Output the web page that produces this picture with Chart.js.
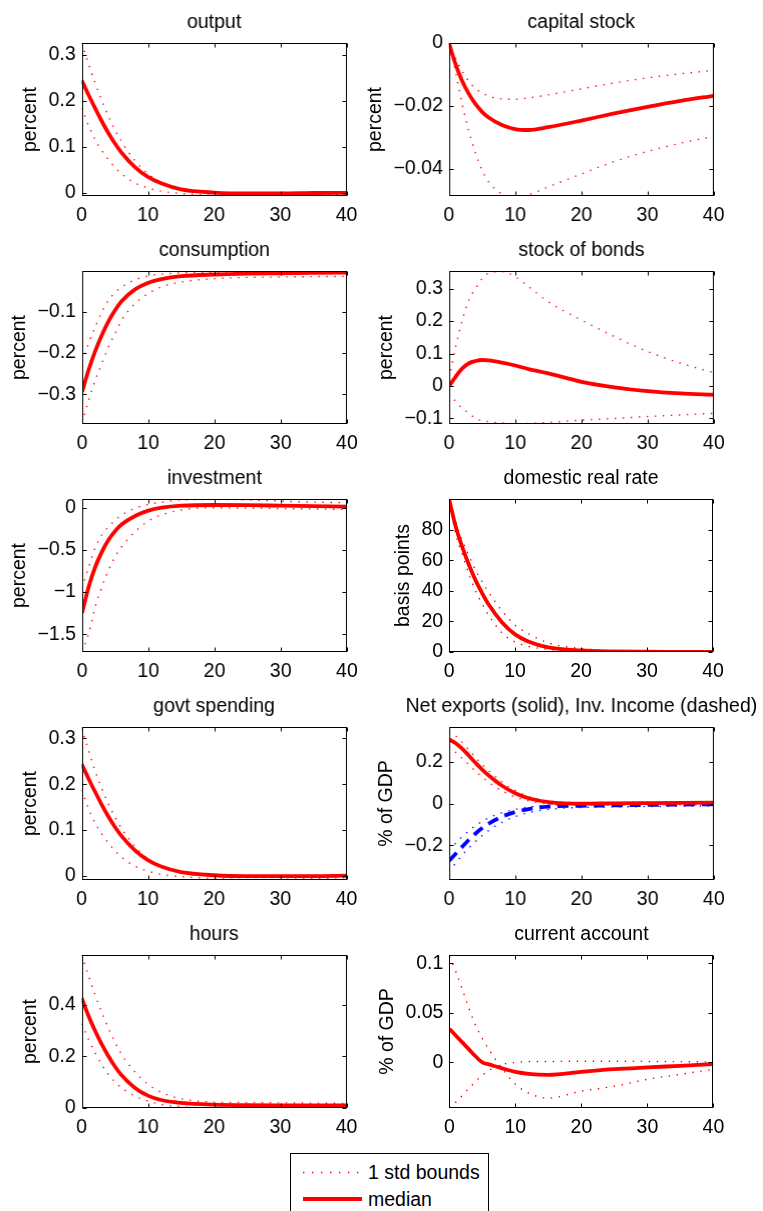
<!DOCTYPE html>
<html>
<head>
<meta charset="utf-8">
<script src="https://cdn.jsdelivr.net/npm/chart.js@4.4.1/dist/chart.umd.min.js"></script>
<style>
  body { margin: 0; background: #fff; width: 763px; height: 1211px; overflow: hidden; position: relative;
         font-family: "Liberation Sans", Arial, sans-serif; }
  canvas.panel { position: absolute; }
  #legend { position: absolute; left: 290px; top: 1153px; width: 197px; height: 80px;
            border: 1px solid #000; background: #fff; }
  #legend canvas { position: absolute; left: 0; top: 0; }
  #legend span { position: absolute; left: 77px; font-size: 19.5px; line-height: 22px; color: #000; white-space: nowrap; }
</style>
</head>
<body>
<div id="legend">
  <canvas id="legendKey" width="76" height="60"></canvas>
  <span style="top:7px">1 std bounds</span>
  <span style="top:34px">median</span>
</div>
<script>
// horizon in quarters
var T = [0, 1, 2, 3, 4, 5, 6, 8, 10, 12, 15, 20, 25, 30, 35, 40];
var xTicks = [0, 10, 20, 30, 40];

// output
var outputMed = [0.245, 0.214, 0.185, 0.157, 0.131, 0.108, 0.088, 0.057, 0.035, 0.021, 0.008, 0.001, -0.001, -0.001, 0.000, 0.0005];
var outputHi  = [0.326, 0.282, 0.240, 0.203, 0.168, 0.138, 0.112, 0.071, 0.042, 0.024, 0.009, 0.002, 0.001, 0.001, 0.001, 0.002];
var outputLo  = [0.185, 0.148, 0.117, 0.093, 0.073, 0.056, 0.042, 0.022, 0.011, 0.004, -0.001, -0.005, -0.006, -0.005, -0.004, -0.003];
var outputTicks = [0, 0.1, 0.2, 0.3];

// capital stock
var capitalMed = [0, -0.0068, -0.0121, -0.0162, -0.0194, -0.0219, -0.0237, -0.0261, -0.0274, -0.0277, -0.0268, -0.0247, -0.0224, -0.0203, -0.0184, -0.0168];
var capitalHi  = [0, -0.0048, -0.0090, -0.0122, -0.0144, -0.0159, -0.0169, -0.0178, -0.0179, -0.0175, -0.0165, -0.0146, -0.0127, -0.0111, -0.0098, -0.0087];
var capitalLo  = [0, -0.0092, -0.0195, -0.0280, -0.0350, -0.0405, -0.0442, -0.0480, -0.0490, -0.0483, -0.0458, -0.0417, -0.0377, -0.0345, -0.0319, -0.0297];
var capitalTicks = [-0.04, -0.02, 0];

// consumption
var consMed = [-0.294, -0.240, -0.195, -0.156, -0.123, -0.096, -0.074, -0.046, -0.030, -0.021, -0.014, -0.010, -0.008, -0.007, -0.006, -0.0055];
var consHi  = [-0.221, -0.176, -0.136, -0.100, -0.072, -0.054, -0.040, -0.023, -0.0135, -0.009, -0.006, -0.0045, -0.0035, -0.003, -0.003, -0.003];
var consLo  = [-0.369, -0.314, -0.265, -0.225, -0.185, -0.152, -0.120, -0.080, -0.056, -0.040, -0.028, -0.020, -0.017, -0.016, -0.015, -0.0145];
var consTicks = [-0.3, -0.2, -0.1];

// stock of bonds
var bondsMed = [0, 0.029, 0.054, 0.070, 0.077, 0.080, 0.079, 0.072, 0.063, 0.052, 0.039, 0.013, -0.004, -0.016, -0.023, -0.027];
var bondsHi  = [0.024, 0.121, 0.203, 0.265, 0.300, 0.331, 0.347, 0.352, 0.336, 0.306, 0.259, 0.203, 0.152, 0.106, 0.070, 0.041];
var bondsLo  = [-0.023, -0.048, -0.069, -0.084, -0.100, -0.107, -0.110, -0.114, -0.116, -0.115, -0.112, -0.105, -0.100, -0.094, -0.089, -0.084];
var bondsTicks = [-0.1, 0, 0.1, 0.2, 0.3];

// investment
var invMed = [-1.244, -0.936, -0.700, -0.520, -0.380, -0.276, -0.197, -0.098, -0.035, 0.000, 0.024, 0.032, 0.030, 0.024, 0.018, 0.012];
var invHi  = [-0.955, -0.700, -0.470, -0.320, -0.225, -0.150, -0.086, -0.007, 0.040, 0.064, 0.092, 0.098, 0.092, 0.078, 0.066, 0.059];
var invLo  = [-1.706, -1.490, -1.170, -0.936, -0.740, -0.580, -0.460, -0.284, -0.158, -0.086, -0.027, 0.000, -0.005, -0.010, -0.015, -0.020];
var invTicks = [-1.5, -1, -0.5, 0];

// domestic real rate, basis points
var rateMed = [100, 82, 68.5, 57, 47, 38.5, 31, 19.5, 11.5, 6.8, 3, 1, 0.4, 0.2, 0.1, 0];
var rateHi  = [100, 85, 73, 63, 53.5, 46, 39, 27, 17.5, 12, 6, 2.2, 0.9, 0.4, 0.2, 0.1];
var rateLo  = [100, 77, 64, 51, 40, 31.5, 24, 12.5, 6.5, 3.7, 1.7, 0.4, 0.1, 0, 0, 0];
var rateTicks = [0, 20, 40, 60, 80];

// govt spending
var govMed = [0.244, 0.213, 0.184, 0.156, 0.130, 0.107, 0.087, 0.056, 0.034, 0.020, 0.008, 0.001, -0.001, -0.001, -0.001, 0];
var govHi  = [0.322, 0.275, 0.230, 0.192, 0.158, 0.129, 0.104, 0.065, 0.037, 0.020, 0.007, 0.001, 0, 0, 0, 0];
var govLo  = [0.187, 0.148, 0.116, 0.092, 0.072, 0.055, 0.041, 0.021, 0.010, 0.003, -0.002, -0.006, -0.008, -0.008, -0.006, -0.005];
var govTicks = [0, 0.1, 0.2, 0.3];

// net exports (solid) and investment income (dashed), % of GDP
var nxMed = [0.309, 0.290, 0.263, 0.230, 0.196, 0.164, 0.135, 0.086, 0.050, 0.026, 0.008, 0.000, 0.002, 0.003, 0.004, 0.005];
var nxHi  = [0.345, 0.325, 0.293, 0.258, 0.222, 0.188, 0.157, 0.104, 0.064, 0.035, 0.013, 0.005, 0.006, 0.007, 0.008, 0.008];
var nxLo  = [0.274, 0.246, 0.216, 0.186, 0.156, 0.128, 0.102, 0.062, 0.032, 0.014, -0.002, -0.008, -0.007, -0.006, -0.005, -0.005];
var incMed = [-0.274, -0.240, -0.206, -0.173, -0.143, -0.117, -0.095, -0.062, -0.040, -0.026, -0.014, -0.010, -0.008, -0.006, -0.004, -0.003];
var incHi  = [-0.222, -0.190, -0.158, -0.130, -0.105, -0.085, -0.068, -0.043, -0.027, -0.016, -0.007, -0.003, -0.002, -0.002, -0.002, -0.002];
var incLo  = [-0.326, -0.285, -0.246, -0.212, -0.181, -0.153, -0.128, -0.089, -0.062, -0.043, -0.027, -0.018, -0.015, -0.014, -0.012, -0.011];
var nxTicks = [-0.2, 0, 0.2];

// hours
var hoursMed = [0.426, 0.358, 0.300, 0.248, 0.202, 0.161, 0.127, 0.078, 0.047, 0.030, 0.019, 0.012, 0.010, 0.009, 0.009, 0.009];
var hoursHi  = [0.593, 0.515, 0.440, 0.372, 0.311, 0.256, 0.208, 0.140, 0.092, 0.060, 0.035, 0.022, 0.020, 0.019, 0.018, 0.017];
var hoursLo  = [0.326, 0.267, 0.215, 0.169, 0.131, 0.101, 0.078, 0.046, 0.026, 0.013, 0.004, 0.000, 0.000, 0.001, 0.001, 0.001];
var hoursTicks = [0, 0.2, 0.4];

// current account
var caMed = [0.034, 0.027, 0.020, 0.013, 0.006, 0.000, -0.002, -0.006, -0.0095, -0.0115, -0.0125, -0.0095, -0.0068, -0.005, -0.0034, -0.0017];
var caHi  = [0.107, 0.0915, 0.073, 0.054, 0.037, 0.024, 0.013, -0.006, -0.022, -0.031, -0.036, -0.029, -0.024, -0.017, -0.012, -0.007];
var caLo  = [-0.046, -0.040, -0.033, -0.026, -0.019, -0.013, -0.008, -0.002, 0.000, 0.001, 0.001, 0.0012, 0.0012, 0.001, 0.0008, 0.0005];
var caTicks = [0, 0.05, 0.1];

// axes boxes of the 5x2 grid
var colX = [82, 449];
var rowY = [43, 271, 499, 727, 955];
var PW = 264, PH = 153;

var RED = 'rgb(255,0,0)', BLUE = 'rgb(0,0,255)';
var FONT = { family: '"Liberation Sans", Arial, sans-serif', size: 19.5 };

function pts(arr) {
  return T.map(function (t, i) { return { x: t, y: arr[i] }; });
}
function solid(arr, color) {
  return { data: pts(arr), borderColor: color, borderWidth: 3.8, pointRadius: 0,
           cubicInterpolationMode: 'monotone', clip: 0, borderCapStyle: 'butt' };
}
function dashed(arr, color) {
  var d = solid(arr, color);
  d.borderDash = [11, 7];
  return d;
}
function dotted(arr, color) {
  return { data: pts(arr), borderColor: color, borderWidth: 1.4, borderDash: [1.4, 6.6], pointRadius: 0,
           cubicInterpolationMode: 'monotone', clip: 0, borderCapStyle: 'butt' };
}

function fmt(v) {
  return String(+Number(v).toFixed(4)).replace('-', '\u2212');
}

var panels = [
  { title: 'output', ylab: 'percent', col: 0, row: 0, ymin: -0.0065, ymax: 0.326, ticks: outputTicks,
    sets: [solid(outputMed, RED), dotted(outputHi, RED), dotted(outputLo, RED)] },
  { title: 'capital stock', ylab: 'percent', col: 1, row: 0, ymin: -0.0487, ymax: 0, ticks: capitalTicks,
    sets: [solid(capitalMed, RED), dotted(capitalHi, RED), dotted(capitalLo, RED)] },
  { title: 'consumption', ylab: 'percent', col: 0, row: 1, ymin: -0.372, ymax: -0.0015, ticks: consTicks,
    sets: [solid(consMed, RED), dotted(consHi, RED), dotted(consLo, RED)] },
  { title: 'stock of bonds', ylab: 'percent', col: 1, row: 1, ymin: -0.117, ymax: 0.354, ticks: bondsTicks,
    sets: [solid(bondsMed, RED), dotted(bondsHi, RED), dotted(bondsLo, RED)] },
  { title: 'investment', ylab: 'percent', col: 0, row: 2, ymin: -1.71, ymax: 0.103, ticks: invTicks,
    sets: [solid(invMed, RED), dotted(invHi, RED), dotted(invLo, RED)] },
  { title: 'domestic real rate', ylab: 'basis points', col: 1, row: 2, ymin: 0, ymax: 100, ticks: rateTicks,
    sets: [solid(rateMed, RED), dotted(rateHi, RED), dotted(rateLo, RED)] },
  { title: 'govt spending', ylab: 'percent', col: 0, row: 3, ymin: -0.0094, ymax: 0.325, ticks: govTicks,
    sets: [solid(govMed, RED), dotted(govHi, RED), dotted(govLo, RED)] },
  { title: 'Net exports (solid), Inv. Income (dashed)', ylab: '% of GDP', col: 1, row: 3,
    ymin: -0.366, ymax: 0.368, ticks: nxTicks,
    sets: [solid(nxMed, RED), dashed(incMed, BLUE), dotted(nxHi, RED), dotted(nxLo, RED),
           dotted(incHi, BLUE), dotted(incLo, BLUE)] },
  { title: 'hours', ylab: 'percent', col: 0, row: 4, ymin: -0.001, ymax: 0.593, ticks: hoursTicks,
    sets: [solid(hoursMed, RED), dotted(hoursHi, RED), dotted(hoursLo, RED)] },
  { title: 'current account', ylab: '% of GDP', col: 1, row: 4, ymin: -0.046, ymax: 0.1085, ticks: caTicks,
    sets: [solid(caMed, RED), dotted(caHi, RED), dotted(caLo, RED)] }
];

// boxed axes with inward tick marks on all four sides, title above the box
var boxTicks = {
  id: 'boxTicks',
  afterDraw: function (chart, args, opts) {
    var ctx = chart.ctx, a = chart.chartArea, x = chart.scales.x, y = chart.scales.y;
    var L = Math.round(a.left) + 0.5, R = Math.round(a.right) - 0.5;
    var B = Math.round(a.bottom) - 0.5, Tp = Math.round(a.top) + 0.5;
    ctx.save();
    ctx.strokeStyle = '#000';
    ctx.lineWidth = 1;
    ctx.beginPath();
    x.ticks.forEach(function (t) {
      var px = Math.round(x.getPixelForValue(t.value)) + 0.5;
      ctx.moveTo(px, B); ctx.lineTo(px, B - 4);
      ctx.moveTo(px, Tp); ctx.lineTo(px, Tp + 4);
    });
    y.ticks.forEach(function (t) {
      var py = Math.round(y.getPixelForValue(t.value)) + 0.5;
      ctx.moveTo(L, py); ctx.lineTo(L + 4, py);
      ctx.moveTo(R, py); ctx.lineTo(R - 4, py);
    });
    ctx.stroke();
    ctx.strokeRect(L, Tp, R - L, B - Tp);
    ctx.fillStyle = '#000';
    ctx.font = FONT.size + 'px ' + FONT.family;
    ctx.textAlign = 'center';
    ctx.textBaseline = 'alphabetic';
    ctx.fillText(opts.text, (a.left + a.right) / 2, a.top - 15);
    ctx.restore();
  }
};

function makeChart(p) {
  var cv = document.createElement('canvas');
  cv.className = 'panel';
  cv.width = 400;
  cv.height = 230;
  document.body.appendChild(cv);
  var chart = new Chart(cv, {
    type: 'line',
    data: { datasets: p.sets },
    options: {
      responsive: false,
      maintainAspectRatio: false,
      animation: false,
      devicePixelRatio: 1,
      events: [],
      layout: { padding: { top: 36, right: p.col ? 50 : 24, bottom: 2, left: 0 } },
      plugins: { legend: { display: false }, tooltip: { enabled: false }, boxTicks: { text: p.title } },
      scales: {
        x: {
          type: 'linear', min: 0, max: 40,
          grid: { display: false, drawTicks: false }, border: { display: false },
          afterBuildTicks: function (s) { s.ticks = xTicks.map(function (v) { return { value: v }; }); },
          ticks: { font: FONT, color: '#000', padding: 8, maxRotation: 0, autoSkip: false, callback: fmt }
        },
        y: {
          type: 'linear', min: p.ymin, max: p.ymax,
          grid: { display: false, drawTicks: false }, border: { display: false },
          afterBuildTicks: function (s) { s.ticks = p.ticks.map(function (v) { return { value: v }; }); },
          ticks: { font: FONT, color: '#000', padding: 6, autoSkip: false, callback: fmt },
          title: { display: true, text: p.ylab, font: FONT, color: '#000',
                   padding: { top: 0, bottom: 0 } }
        }
      }
    },
    plugins: [boxTicks]
  });
  // size the canvas so the plot box is PW x PH, then pin the box to its grid cell
  var a = chart.chartArea;
  chart.resize(chart.width + PW - (a.right - a.left), chart.height + PH - (a.bottom - a.top));
  a = chart.chartArea;
  cv.style.left = Math.round(colX[p.col] - a.left) + 'px';
  cv.style.top = Math.round(rowY[p.row] - a.top) + 'px';
  return chart;
}

panels.forEach(makeChart);

// legend key samples
(function () {
  var ctx = document.getElementById('legendKey').getContext('2d');
  ctx.strokeStyle = RED;
  ctx.lineWidth = 1.4;
  ctx.setLineDash([1.4, 7.6]);
  ctx.beginPath(); ctx.moveTo(12, 18.5); ctx.lineTo(72, 18.5); ctx.stroke();
  ctx.setLineDash([]);
  ctx.lineWidth = 3.8;
  ctx.beginPath(); ctx.moveTo(12, 45); ctx.lineTo(71, 45); ctx.stroke();
})();
</script>
</body>
</html>
